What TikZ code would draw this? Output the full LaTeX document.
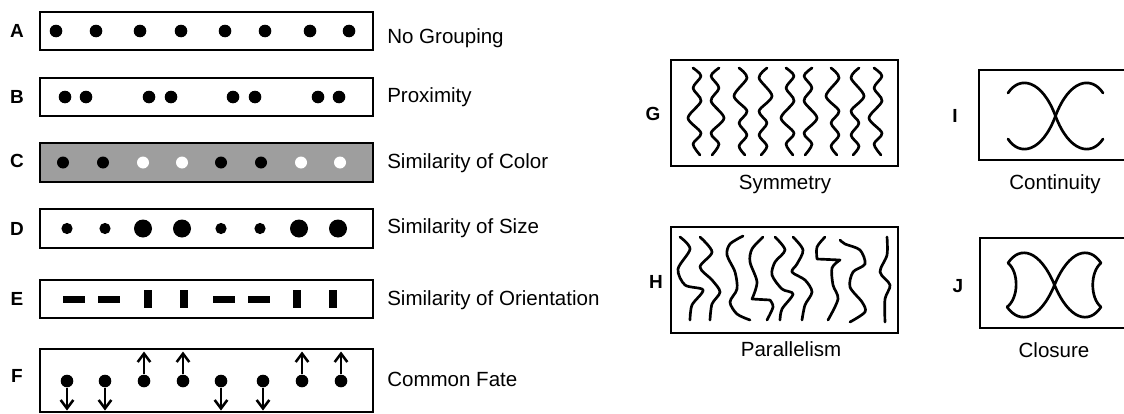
\documentclass[tikz,border=0pt]{standalone}
\usepackage{fontspec}
\setmainfont{Liberation Sans}
\usetikzlibrary{arrows.meta}
\definecolor{gris}{gray}{0.62}

\begin{document}
\begin{tikzpicture}[
	x=0.025cm, y=-0.025cm,
	% Styles des cadres et du texte
	cadre/.style={draw=black, line width=1.2pt},
	etiquette/.style={font=\fontsize{14.6}{16}\selectfont, anchor=base west, inner sep=0pt},
	legende/.style={font=\fontsize{14.6}{16}\selectfont, anchor=base, inner sep=0pt},
	lettre/.style={font=\fontsize{13.5}{15}\selectfont\bfseries, anchor=base, inner sep=0pt},
	pastille/.style={circle, fill=black, minimum size=12.6*0.025cm, inner sep=0pt},
	onde/.style={line width=1.9pt, line cap=round, line join=round},
	fleche/.style={line width=1.8pt, -{Straight Barb[length=6pt, width=9pt]}},
	]
	
	\useasboundingbox (0,0) rectangle (1124,414);
	\clip (0,0) rectangle (1124,414);
	
	% Colonne de gauche
	\draw[cadre] (40,12) rectangle (373,50);
	\draw[cadre] (40,78) rectangle (373,116);
	\draw[cadre, fill=gris] (40,143) rectangle (373,182);
	\draw[cadre] (40,209) rectangle (373,248);
	\draw[cadre] (40,280) rectangle (373,318);
	\draw[cadre] (40,349) rectangle (373,412);
	
	\node[lettre] (lA) at (17,37) {A};
	\node[lettre] (lB) at (17,103) {B};
	\node[lettre] (lC) at (17,167) {C};
	\node[lettre] (lD) at (17,235) {D};
	\node[lettre] (lE) at (17,305) {E};
	\node[lettre] (lF) at (17,382) {F};
	
	\node[etiquette] (tA) at (387,43.5) {No Grouping};
	\node[etiquette] (tB) at (387,102.5) {Proximity};
	\node[etiquette] (tC) at (387,168) {Similarity of Color};
	\node[etiquette] (tD) at (387,233) {Similarity of Size};
	\node[etiquette] (tE) at (387,305) {Similarity of Orientation};
	\node[etiquette] (tF) at (387,386) {Common Fate};
	
	\foreach \x in {56,96,140,181,225,265,310,349}
		\fill (\x,31) circle[radius=6.3];
	\foreach \x in {65,86,149,171,233,255,318,339}
		\fill (\x,97) circle[radius=6.3];
	\foreach \x/\c in {63/black,103/black,143/white,182/white,221/black,261/black,301/white,340/white}
		\fill[\c] (\x,162.5) circle[radius=6];
	\foreach \x/\r in {67/5.6,105/5.6,143/9,182/9,221/5.6,260/5.6,299/9,338/9}
		\fill (\x,228.5) circle[radius=\r];
	\foreach \x/\w/\h in {74/11/3.5,109/11/3.5,148/4/9,184/4/9,224/11/3.5,259/11/3.5,297/4/9,333/4/9}
		\fill (\x-\w,299-\h) rectangle (\x+\w,299+\h);
	
	\foreach \x/\d [count=\i] in {67/1,105/1,144/-1,183/-1,221/1,263/1,302/-1,341/-1}{
		\node[pastille] (f\i) at (\x,381) {};
		\coordinate (pointe\i) at (\x,381+29.5*\d);
		\draw[fleche] (f\i) -- (pointe\i);
	}
	
	% Colonne de droite
	\draw[cadre] (671,60) rectangle (898,166);
	\draw[cadre] (671,227) rectangle (898,333);
	\draw[cadre] (979,70) rectangle (1135,160);
	\draw[cadre] (980,238) rectangle (1135,328);
	
	\node[lettre] (lG) at (653,120.5) {G};
	\node[lettre] (lH) at (656,288) {H};
	\node[lettre] (lI) at (955,122) {I};
	\node[lettre] (lJ) at (958,292) {J};
	
	\node[legende] (tG) at (785,189) {Symmetry};
	\node[legende] (tH) at (791,356) {Parallelism};
	\node[legende] (tI) at (1055,189) {Continuity};
	\node[legende] (tJ) at (1054,357) {Closure};
	
	\foreach \cx/\s in {697/1,715/-1,790/1,808/-1,878/1}
		\draw[onde, shift={(\cx,68)}, xscale=\s] plot[smooth] coordinates
			{(-4,0) (4,8) (-4,20) (4,33) (-9,50) (4,65) (-4,76) (3,87)};
	\foreach \cx/\s in {743/1,763/-1,835/1,855/-1}
		\draw[onde, shift={(\cx,68)}, xscale=\s] plot[smooth] coordinates
			{(-4,0) (4,10) (-9,28) (4,43) (-4,55) (4,67) (-4,78) (2,87)};
	
	\draw[onde] plot[smooth] coordinates {(680,237) (690,249) (678,269) (685,285) (703,290) (692,305) (690,320)};
	\draw[onde] plot[smooth] coordinates {(700,237) (712,252) (700,267) (712,280) (720,292) (712,304) (710,320)};
	\draw[onde] plot[smooth] coordinates {(743,236) (730,244) (727,255) (735,272) (737,289) (730,302) (737,314) (750,320)};
	\draw[onde] plot[smooth] coordinates {(763,237) (752,249) (750,262) (757,282) (752,299)}
		-- (770,300) plot[smooth] coordinates {(770,300) (773,307) (767,320)};
	\draw[onde] plot[smooth] coordinates {(775,237) (785,250) (775,262) (772,275) (782,289) (793,294) (782,309) (780,320)};
	\draw[onde] plot[smooth] coordinates {(793,237) (803,250) (797,264) (792,272) (805,280) (812,292) (805,305) (802,320)};
	\draw[onde] plot[smooth] coordinates {(825,237) (817,247) (817,259)}
		-- (840,260) plot[smooth] coordinates {(840,260) (832,268) (833,285) (838,299) (828,320)};
	\draw[onde] plot[smooth] coordinates {(840,240) (845,244) (860,250) (865,264) (853,272) (850,287) (862,302) (865,312) (850,322)};
	\draw[onde] plot[smooth] coordinates {(887,237) (887,255) (880,272) (890,285) (885,299) (885,322)};
	
	\draw[onde] (1008,93) .. controls (1020,75) and (1042,80) .. (1055.5,116)
		.. controls (1069,152) and (1091,157) .. (1103,139);
	\draw[onde] (1103,93) .. controls (1091,75) and (1069,80) .. (1055.5,116)
		.. controls (1042,152) and (1020,157) .. (1008,139);
	
	\draw[onde] (1008,263) .. controls (1020,245) and (1040,250) .. (1054.5,285)
		.. controls (1069,320) and (1089,325) .. (1101,307)
		.. controls (1090,298) and (1090,272) .. (1101,263)
		.. controls (1089,245) and (1069,250) .. (1054.5,285)
		.. controls (1040,320) and (1020,325) .. (1007,307)
		.. controls (1019,298) and (1019,272) .. cycle;
	
\end{tikzpicture}
\end{document}
